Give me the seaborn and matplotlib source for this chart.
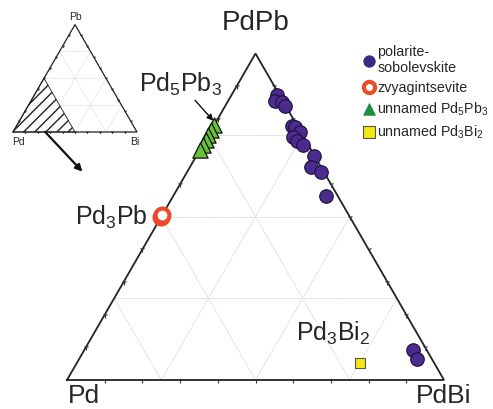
import numpy as np
import pandas as pd
import seaborn as sns
import matplotlib.pyplot as plt
from matplotlib.markers import MarkerStyle
from matplotlib.transforms import Affine2D

sns.set_style('white')
plt.rcParams['font.family'] = ['Liberation Sans', 'DejaVu Sans']
plt.rcParams['mathtext.fontset'] = 'custom'
plt.rcParams['mathtext.rm'] = 'Liberation Sans'
plt.rcParams['mathtext.it'] = 'Liberation Sans:italic'

# compositions in the Pd - PdBi - PdPb triangle (fraction of PdBi, fraction of PdPb)
polar_bi = [0.120, 0.124, 0.144, 0.158, 0.207, 0.218, 0.239, 0.229, 0.243,
            0.267, 0.312, 0.321, 0.354, 0.404, 0.872, 0.896]
polar_pb = [0.873, 0.855, 0.851, 0.840, 0.779, 0.774, 0.759, 0.743, 0.733,
            0.720, 0.685, 0.651, 0.638, 0.564, 0.092, 0.064]
zvy_bi = [0.0, 0.0]
zvy_pb = [0.50, 0.505]
pd5pb3_bi = [0.0, 0.0, 0.0, 0.0, 0.0, 0.0]
pd5pb3_pb = [0.780, 0.765, 0.750, 0.735, 0.720, 0.705]
pd3bi2_bi = [0.751]
pd3bi2_pb = [0.052]

grid_levels = [0.25, 0.5, 0.75]
tick_levels = np.arange(1, 10) / 10

H = np.sqrt(3) / 2


def to_xy(b, t):
    b = np.asarray(b, dtype=float)
    t = np.asarray(t, dtype=float)
    return b + t / 2, t * H


def draw_frame(ax, lw, grid_lw, tick_size):
    corners_b = [0, 1, 0, 0]
    corners_t = [0, 0, 1, 0]
    x, y = to_xy(corners_b, corners_t)
    ax.plot(x, y, color='#222222', lw=lw, zorder=2, solid_joinstyle='miter')
    for c in grid_levels:
        for bb, tt in [([0, 1 - c], [c, c]), ([c, c], [0, 1 - c]), ([1 - c, 0], [0, 1 - c])]:
            gx, gy = to_xy(bb, tt)
            ax.plot(gx, gy, color='#d8d8d8', lw=grid_lw, ls=(0, (2, 1)), zorder=1)
    sides = [(tick_levels, np.zeros(9), 0),
             (1 - tick_levels, tick_levels, 120),
             (np.zeros(9), tick_levels, -120)]
    for bb, tt, ang in sides:
        tx, ty = to_xy(bb, tt)
        m = MarkerStyle('1', transform=Affine2D().rotate_deg(ang))
        ax.plot(tx, ty, ls='none', marker=m, ms=tick_size, mew=0.8,
                color='#333333', zorder=2)


fig = plt.figure(figsize=(4.93, 4.10), dpi=100)

ax = fig.add_axes([0, 0, 1, 1])
ax.set_xlim(-67 / 377, (493 - 67) / 377)
ax.set_ylim(-29 / 377, 381 / 377)
ax.axis('off')
draw_frame(ax, 1.3, 0.7, 4)

px, py = to_xy(polar_bi, polar_pb)
sns.scatterplot(x=px, y=py, ax=ax, marker='o', s=95, color='#4b2b8e',
                edgecolor='#1c0f3f', linewidth=0.8, zorder=4,
                label='polarite-\nsobolevskite')
zx, zy = to_xy(zvy_bi, zvy_pb)
sns.scatterplot(x=zx, y=zy, ax=ax, marker='o', s=100, facecolor='white',
                edgecolor='#ec4a2a', linewidth=3.0, zorder=4,
                label='zvyagintsevite')
gx, gy = to_xy(pd5pb3_bi, pd5pb3_pb)
sns.scatterplot(x=gx, y=gy, ax=ax, marker='^', s=120, color='#66c236',
                edgecolor='#111111', linewidth=0.9, zorder=4,
                label='unnamed Pd$_5$Pb$_3$')
yx, yy = to_xy(pd3bi2_bi, pd3bi2_pb)
sns.scatterplot(x=yx, y=yy, ax=ax, marker='s', s=45, color='#f7ea10',
                edgecolor='#555555', linewidth=0.8, zorder=4,
                label='unnamed Pd$_3$Bi$_2$')

leg = ax.legend(loc='upper right', bbox_to_anchor=(1.012, 0.915), frameon=False,
                fontsize=10.3, handletextpad=0.05, labelspacing=0.4,
                borderaxespad=0.3, handlelength=1.0)
leg_colors = ['#3a2a86', None, '#1e8f3c', '#f3e714']
for h, c in zip(leg.legend_handles, leg_colors):
    h.set_sizes([65])
    if c is not None:
        h.set_facecolor(c)
        h.set_edgecolor(c if c != '#f3e714' else '#555555')

# corner labels
lx, ly = to_xy([0, 1, 0], [0, 0, 1])
ax.text(lx[0] + 0.045, ly[0] - 0.008, 'Pd', fontsize=19, ha='center', va='top')
ax.text(lx[1] + 0.0, ly[1] - 0.008, 'PdBi', fontsize=19, ha='center', va='top')
ax.text(lx[2], ly[2] + 0.05, 'PdPb', fontsize=20, ha='center', va='bottom')

ax.text(zx[0] - 0.035, zy[0], 'Pd$_3$Pb', fontsize=18, ha='right', va='center')
ax.text(yx[0] - 0.07, yy[0] + 0.045, 'Pd$_3$Bi$_2$', fontsize=18, ha='center', va='bottom')
ax.annotate('Pd$_5$Pb$_3$', xy=(gx[0] - 0.002, gy[0] + 0.012),
            xytext=(gx[0] - 0.09, gy[0] + 0.075), fontsize=18, ha='center',
            va='bottom',
            arrowprops=dict(arrowstyle='-|>', color='#111111', lw=1.0,
                            mutation_scale=9, shrinkA=0, shrinkB=0))

# inset triangle
inset = fig.add_axes([6.8 / 493, (410 - 145.4) / 410, 136.4 / 493, 130.2 / 410])
inset.set_xlim(-0.05, 1.05)
inset.set_ylim(-0.1, 0.95)
inset.axis('off')
draw_frame(inset, 0.9, 0.5, 2)
hx, hy = to_xy([0, 0.5, 0, 0], [0, 0, 0.5, 0])
inset.fill(hx, hy, facecolor='none', edgecolor='#222222', hatch='///', lw=0.6)
ix, iy = to_xy([0, 1, 0], [0, 0, 1])
inset.text(ix[0] + 0.04, iy[0] - 0.03, 'Pd', fontsize=7.5, ha='center', va='top')
inset.text(ix[1] - 0.02, iy[1] - 0.03, 'Bi', fontsize=7.5, ha='center', va='top')
inset.text(ix[2], iy[2] + 0.03, 'Pb', fontsize=7.5, ha='center', va='bottom')
inset.annotate('', xy=(0.56, -0.32), xytext=(0.26, 0.0),
               arrowprops=dict(arrowstyle='-|>', color='#111111', lw=1.6,
                               mutation_scale=10, shrinkA=0, shrinkB=0),
               annotation_clip=False)

fig.savefig('out.png', dpi=100)
